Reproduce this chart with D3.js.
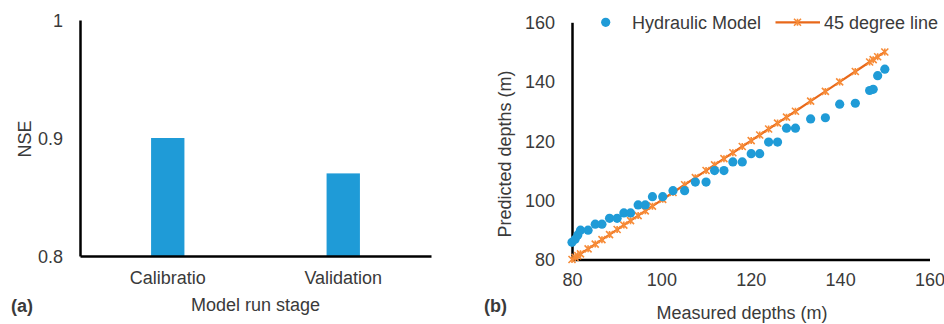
<!DOCTYPE html>
<html>
<head>
<meta charset="utf-8">
<script src="https://cdn.jsdelivr.net/npm/d3@7"></script>
<style>
  html, body { margin: 0; padding: 0; background: #fff; }
  svg { display: block; }
  text { font-family: "Liberation Sans", Arial, sans-serif; fill: #3a3a3a; }
</style>
</head>
<body>
<svg id="chart" width="944" height="324"></svg>
<script>
// ---- Panel (a) data ----
const stages = ["Calibratio", "Validation"];
const nse = [0.90, 0.87];
const nseTicks = [0.8, 0.9, 1];

// ---- Panel (b) data ----
const measured = [80.0, 80.7, 81.3, 81.9, 83.6, 85.2, 86.7, 88.4, 90.1, 91.6, 93.1, 94.8, 96.4, 98.0, 100.3, 102.6, 105.2, 107.6, 110.0, 111.9, 114.0, 116.0, 118.1, 120.1, 122.0, 124.0, 126.0, 128.0, 130.0, 133.4, 136.7, 139.9, 143.4, 146.6, 147.4, 148.4, 150.0];
const predicted = [85.8, 86.8, 88.3, 89.9, 89.9, 91.9, 91.9, 93.9, 93.9, 95.7, 95.7, 98.4, 98.4, 101.2, 101.2, 103.2, 103.2, 106.1, 106.1, 110.0, 110.0, 112.9, 112.9, 115.7, 115.7, 119.6, 119.6, 124.3, 124.3, 127.4, 127.8, 132.4, 132.7, 137.0, 137.4, 142.0, 144.2];
const depthTicks = [80, 100, 120, 140, 160];
const seriesNames = ["Hydraulic Model", "45 degree line"];

const BLUE = "#1f9bd7";
const ORANGE_LINE = "#e8681a";
const ORANGE_MARK = "#f78c38";
const FS = 18;

const svg = d3.select("#chart");

// ================= Panel (a) =================
const ya = d3.scaleLinear().domain([0.8, 1]).range([256, 20]);
const xa = d3.scaleBand().domain(stages).range([80, 431]).padding(0);
const ga = svg.append("g");
const barW = xa.bandwidth() * 0.19;

ga.selectAll("rect.bar").data(stages).enter().append("rect")
  .attr("class", "bar")
  .attr("x", d => xa(d) + xa.bandwidth() / 2 - barW / 2)
  .attr("width", barW)
  .attr("y", (d, i) => ya(nse[i]))
  .attr("height", (d, i) => ya(0.8) - ya(nse[i]))
  .attr("fill", BLUE);

// y axis
const yAxisA = d3.axisLeft(ya).tickValues(nseTicks).tickSize(0).tickPadding(17)
  .tickFormat(d => d3.format("")(d));
const gya = ga.append("g").attr("transform", "translate(80,0)").call(yAxisA);
gya.select(".domain").attr("stroke", "#000").attr("stroke-width", 2.5);
gya.selectAll("text").attr("font-size", FS).attr("fill", "#3a3a3a")
  .attr("font-family", "Liberation Sans, Arial, sans-serif").attr("dy", "0.35em");

// x axis
const xAxisA = d3.axisBottom(xa).tickSize(0).tickPadding(15);
const gxa = ga.append("g").attr("transform", "translate(0,256)").call(xAxisA);
gxa.select(".domain").attr("stroke", "#000").attr("stroke-width", 2.5);
gxa.selectAll("text").attr("font-size", FS).attr("fill", "#3a3a3a")
  .attr("font-family", "Liberation Sans, Arial, sans-serif");

ga.append("text").attr("x", 255.5).attr("y", 311).attr("text-anchor", "middle")
  .attr("font-size", FS).text("Model run stage");
ga.append("text").attr("transform", "translate(30.5,139) rotate(-90)")
  .attr("text-anchor", "middle").attr("font-size", FS).text("NSE");
ga.append("text").attr("x", 11).attr("y", 312).attr("font-size", FS)
  .attr("font-weight", "bold").text("(a)");

// ================= Panel (b) =================
const xb = d3.scaleLinear().domain([80, 160]).range([572, 929.5]);
const yb = d3.scaleLinear().domain([80, 160]).range([259.5, 22.3]);
const gb = svg.append("g");

const yAxisB = d3.axisLeft(yb).tickValues(depthTicks).tickSize(0).tickPadding(17);
const gyb = gb.append("g").attr("transform", "translate(572,0)").call(yAxisB);
gyb.select(".domain").attr("stroke", "#000").attr("stroke-width", 2.5);
gyb.selectAll("text").attr("font-size", FS).attr("fill", "#3a3a3a")
  .attr("font-family", "Liberation Sans, Arial, sans-serif").attr("dy", "0.35em");

const xAxisB = d3.axisBottom(xb).tickValues(depthTicks).tickSize(0).tickPadding(14);
const gxb = gb.append("g").attr("transform", "translate(0,259.5)").call(xAxisB);
gxb.select(".domain").attr("stroke", "#000").attr("stroke-width", 2.5);
gxb.selectAll("text").attr("font-size", FS).attr("fill", "#3a3a3a")
  .attr("font-family", "Liberation Sans, Arial, sans-serif");

// 45 degree line (y = x at each measured depth)
const linePts = measured.map(m => [m, m]);
const line = d3.line().x(d => xb(d[0])).y(d => yb(d[1]));
gb.append("path").datum(linePts).attr("d", line)
  .attr("fill", "none").attr("stroke", ORANGE_LINE).attr("stroke-width", 2.2);

function star(g, cx, cy, s) {
  const p = d3.path();
  p.moveTo(cx - s, cy - s); p.lineTo(cx + s, cy + s);
  p.moveTo(cx - s, cy + s); p.lineTo(cx + s, cy - s);
  p.moveTo(cx, cy - s); p.lineTo(cx, cy + s);
  g.append("path").attr("d", p.toString()).attr("stroke", ORANGE_MARK)
    .attr("stroke-width", 1.6).attr("fill", "none");
}
const gm = gb.append("g");
linePts.forEach(d => star(gm, xb(d[0]), yb(d[1]), 3.5));

// scatter
gb.selectAll("circle.pt").data(measured).enter().append("circle")
  .attr("class", "pt")
  .attr("cx", d => xb(d))
  .attr("cy", (d, i) => yb(predicted[i]))
  .attr("r", 4.6).attr("fill", BLUE);

// legend
const lg = gb.append("g");
lg.append("circle").attr("cx", 605.7).attr("cy", 22.3).attr("r", 4.6).attr("fill", BLUE);
lg.append("text").attr("x", 632).attr("y", 28.8).attr("font-size", FS).text(seriesNames[0]);
lg.append("line").attr("x1", 775.5).attr("x2", 820).attr("y1", 22.3).attr("y2", 22.3)
  .attr("stroke", ORANGE_LINE).attr("stroke-width", 2.2);
star(lg, 797.5, 22.3, 3.5);
lg.append("text").attr("x", 824).attr("y", 28.8).attr("font-size", FS).text(seriesNames[1]);

gb.append("text").attr("x", 742).attr("y", 319).attr("text-anchor", "middle")
  .attr("font-size", FS).text("Measured depths (m)");
gb.append("text").attr("transform", "translate(510.5,154) rotate(-90)")
  .attr("text-anchor", "middle").attr("font-size", FS).text("Predicted depths (m)");
gb.append("text").attr("x", 484).attr("y", 312).attr("font-size", FS)
  .attr("font-weight", "bold").text("(b)");
</script>
</body>
</html>
